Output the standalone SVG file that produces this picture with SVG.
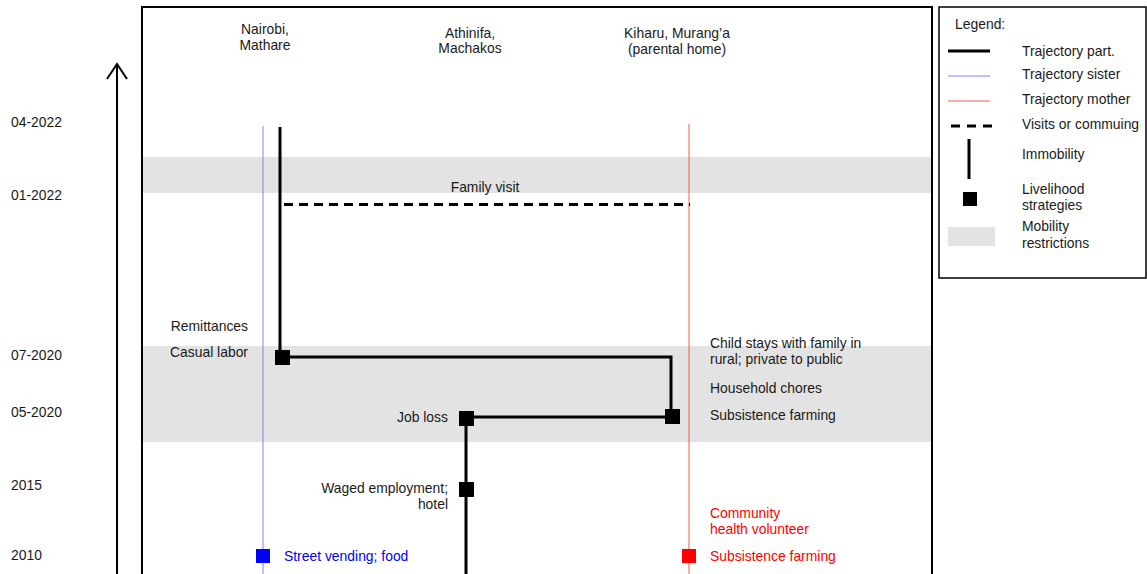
<svg xmlns="http://www.w3.org/2000/svg" width="1147" height="574" viewBox="0 0 1147 574">
<style>
text{font-family:"Liberation Sans",Arial,sans-serif;font-size:13.9px;fill:#1a1a1a}
.r{text-anchor:end}
.m{text-anchor:middle}
.blue{fill:#0000ff}
.red{fill:#ff0000}
.traj{stroke:#000;stroke-width:3;fill:none}
.band{fill:#e3e3e3}
.sq{fill:#000}
</style>
<rect width="1147" height="574" fill="#fff"/>
<g id="bands">
<rect class="band" x="142" y="157" width="790" height="36"/>
<rect class="band" x="142" y="346" width="790" height="96"/>
</g>
<g id="frame">
<rect x="142" y="7" width="790" height="580" fill="none" stroke="#000" stroke-width="2"/>
</g>
<g id="axis">
<line x1="117" y1="64" x2="117" y2="580" stroke="#000" stroke-width="2"/>
<polyline points="107,79 117,64 127,79" fill="none" stroke="#000" stroke-width="2"/>
<text x="11" y="127">04-2022</text>
<text x="11" y="200">01-2022</text>
<text x="11" y="360">07-2020</text>
<text x="11" y="417">05-2020</text>
<text x="11" y="490">2015</text>
<text x="11" y="560">2010</text>
</g>
<g id="headers">
<text class="m" x="265" y="34">Nairobi,</text>
<text class="m" x="265" y="50">Mathare</text>
<text class="m" x="470" y="38">Athinifa,</text>
<text class="m" x="470" y="53">Machakos</text>
<text class="m" x="677" y="38">Kiharu, Murang’a</text>
<text class="m" x="677" y="54">(parental home)</text>
</g>
<g id="connectors">
<line x1="263" y1="126" x2="263" y2="580" stroke="#8080ff" stroke-width="1"/>
<line x1="689" y1="124" x2="689" y2="580" stroke="#ff5555" stroke-width="1"/>
<polyline class="traj" points="280,127 280,357 671,357 671,417 466,417 466,580"/>
<line x1="284" y1="204.5" x2="690" y2="204.5" stroke="#000" stroke-width="3" stroke-dasharray="9,6"/>
</g>
<g id="node-casual">
<rect class="sq" x="275" y="350" width="15" height="15"/>
<text class="r" x="248" y="331">Remittances</text>
<text class="r" x="248" y="357">Casual labor</text>
</g>
<g id="node-jobloss">
<rect class="sq" x="459" y="411" width="15" height="15"/>
<text class="r" x="448" y="422">Job loss</text>
</g>
<g id="node-kiharu">
<rect class="sq" x="665" y="409" width="15" height="15"/>
<text x="710" y="348">Child stays with family in</text>
<text x="710" y="364">rural; private to public</text>
<text x="710" y="393">Household chores</text>
<text x="710" y="420">Subsistence farming</text>
</g>
<g id="node-waged">
<rect class="sq" x="459" y="482" width="15" height="15"/>
<text class="r" x="448" y="493">Waged employment;</text>
<text class="r" x="448" y="509">hotel</text>
</g>
<g id="node-sister">
<rect x="256" y="549" width="14" height="14" fill="#0000ff"/>
<text class="blue" x="284" y="561">Street vending; food</text>
</g>
<g id="node-mother">
<rect x="682" y="549" width="14" height="14" fill="#ff0000"/>
<text class="red" x="710" y="518">Community</text>
<text class="red" x="710" y="534">health volunteer</text>
<text class="red" x="710" y="561">Subsistence farming</text>
</g>
<g id="family-visit">
<text class="m" x="485" y="192">Family visit</text>
</g>
<g id="legend">
<rect x="939" y="7" width="207" height="271" fill="#fff" stroke="#000" stroke-width="1.5"/>
<text x="955" y="29">Legend:</text>
<line x1="948" y1="51" x2="990" y2="51" stroke="#000" stroke-width="3"/>
<text x="1022" y="56">Trajectory part.</text>
<line x1="948" y1="76" x2="990" y2="76" stroke="#8080ff" stroke-width="1"/>
<text x="1022" y="79">Trajectory sister</text>
<line x1="948" y1="101" x2="990" y2="101" stroke="#ff5555" stroke-width="1"/>
<text x="1022" y="104">Trajectory mother</text>
<line x1="951" y1="126" x2="996" y2="126" stroke="#000" stroke-width="3" stroke-dasharray="9,7"/>
<text x="1022" y="129">Visits or commuing</text>
<line x1="969" y1="139" x2="969" y2="179" stroke="#000" stroke-width="3"/>
<text x="1022" y="159">Immobility</text>
<rect class="sq" x="963" y="192" width="14" height="14"/>
<text x="1022" y="194">Livelihood</text>
<text x="1022" y="210">strategies</text>
<rect class="band" x="948" y="227" width="47" height="19"/>
<text x="1022" y="231">Mobility</text>
<text x="1022" y="248">restrictions</text>
</g>
</svg>
